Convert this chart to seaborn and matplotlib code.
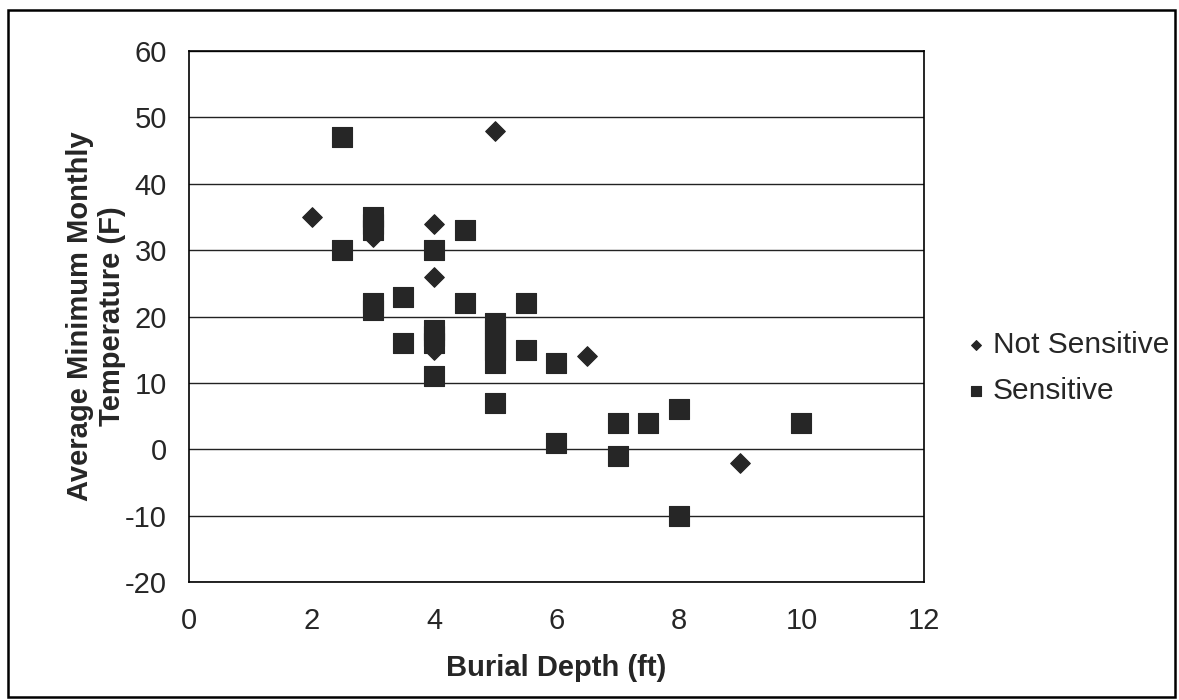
import matplotlib
matplotlib.use("Agg")
import matplotlib.pyplot as plt
from matplotlib.patches import Rectangle
import seaborn as sns
import pandas as pd

# Not Sensitive (diamonds)
ns_depth = [2, 3, 4, 4, 4, 5, 6.5, 9]
ns_temp = [35, 32, 34, 26, 15, 48, 14, -2]

# Sensitive (squares)
s_depth = [2.5, 2.5, 3, 3, 3, 3, 3, 3.5, 3.5, 4, 4, 4, 4, 4,
           4.5, 4.5, 5, 5, 5, 5, 5, 5, 5.5, 5.5, 6, 6,
           7, 7, 7.5, 8, 8, 10]
s_temp = [47, 30, 35, 34, 33, 22, 21, 23, 16, 30, 18, 17, 16, 11,
          33, 22, 19, 18, 16, 15, 13, 7, 22, 15, 13, 1,
          4, -1, 4, 6, -10, 4]

x_ticks = [0, 2, 4, 6, 8, 10, 12]
y_ticks = [-20, -10, 0, 10, 20, 30, 40, 50, 60]

df = pd.DataFrame({
    'depth': ns_depth + s_depth,
    'temp': ns_temp + s_temp,
    'group': ['Not Sensitive'] * len(ns_depth) + ['Sensitive'] * len(s_depth),
})

sns.set_style("white")
plt.rcParams['font.family'] = ['Liberation Sans', 'DejaVu Sans']
plt.rcParams['axes.unicode_minus'] = False

fig = plt.figure(figsize=(11.79, 7), dpi=100)
ax = fig.add_axes([189 / 1179, 1 - 582 / 700, (924 - 189) / 1179, (582 - 51) / 700])

mark_col = '#262626'
sns.scatterplot(data=df[df.group == 'Not Sensitive'], x='depth', y='temp',
                marker='D', s=100, color=mark_col, edgecolor=mark_col,
                linewidth=0.8, ax=ax, label='Not Sensitive', zorder=3)
sns.scatterplot(data=df[df.group == 'Sensitive'], x='depth', y='temp',
                marker='s', s=200, color=mark_col, edgecolor=mark_col,
                linewidth=0.8, ax=ax, label='Sensitive', zorder=3)

ax.set_xlim(0, 12)
ax.set_ylim(-20, 60)
ax.set_xticks(x_ticks)
ax.set_yticks(y_ticks)
ax.yaxis.grid(True, color='#222222', linewidth=1)
ax.xaxis.grid(False)
ax.set_axisbelow(True)
for sp in ax.spines.values():
    sp.set_color('black')
    sp.set_linewidth(1.2)
ax.tick_params(axis='both', direction='out', length=6, width=1,
               labelsize=21, color='black', pad=10)
ax.tick_params(axis='x', pad=12)

ax.set_xlabel('Burial Depth (ft)', fontsize=21, fontweight='bold', labelpad=14)
ax.set_ylabel('Average Minimum Monthly\nTemperature (F)', fontsize=21,
              fontweight='bold', labelpad=-1)

leg = ax.legend(loc='center left', bbox_to_anchor=(1.059, 0.403), frameon=False,
                fontsize=21.5, handletextpad=0.25, handlelength=0.6,
                labelspacing=0.62, markerscale=0.5, borderaxespad=0,
                borderpad=0)

fig.patches.append(Rectangle((0.007, 0.004), 0.99, 0.982, transform=fig.transFigure,
                             fill=False, edgecolor='black', linewidth=1.8))

fig.savefig('out.png', dpi=100)
